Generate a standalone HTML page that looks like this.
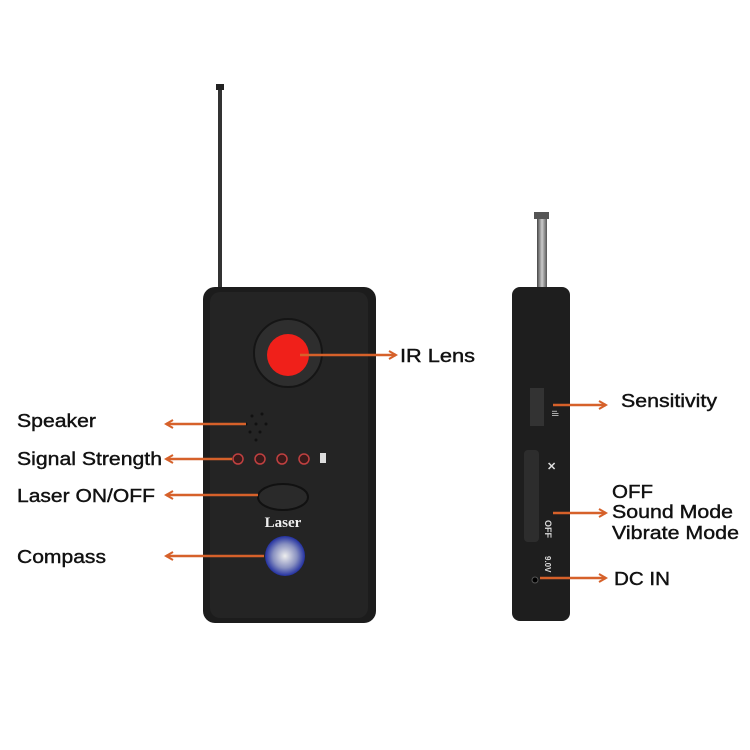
<!DOCTYPE html>
<html><head><style>
html,body{margin:0;padding:0;background:#fff;}
svg{display:block;font-family:"Liberation Sans",sans-serif;}
</style></head><body>
<svg width="750" height="750" viewBox="0 0 750 750">
<defs>
<marker id="ar" markerWidth="10" markerHeight="10" refX="8" refY="5" orient="auto" markerUnits="userSpaceOnUse">
<path d="M1,1 L8,5 L1,9" fill="none" stroke="#d6612a" stroke-width="2"/>
</marker>
<radialGradient id="cmp" cx="50%" cy="50%" r="50%"><stop offset="0" stop-color="#eee"/><stop offset="0.6" stop-color="#8890c0"/><stop offset="1" stop-color="#2230a0"/></radialGradient>
<linearGradient id="ant" x1="0" x2="1"><stop offset="0" stop-color="#444"/><stop offset="0.5" stop-color="#ccc"/><stop offset="1" stop-color="#555"/></linearGradient>
</defs>
<rect x="218" y="88" width="4" height="200" fill="#333"/>
<rect x="216" y="84" width="8" height="6" fill="#222"/>
<rect x="203" y="287" width="173" height="336" rx="12" fill="#1c1c1c"/>
<rect x="210" y="292" width="158" height="326" rx="10" fill="#242424"/>
<circle cx="288" cy="353" r="34" fill="#2e2e2e" stroke="#151515" stroke-width="2"/>
<circle cx="288" cy="355" r="21" fill="#f0201a"/>
<g fill="#111">
<circle cx="252" cy="416" r="1.5"/><circle cx="262" cy="414" r="1.5"/><circle cx="246" cy="424" r="1.5"/><circle cx="256" cy="424" r="1.5"/><circle cx="266" cy="424" r="1.5"/><circle cx="250" cy="432" r="1.5"/><circle cx="260" cy="432" r="1.5"/><circle cx="256" cy="440" r="1.5"/>
</g>
<g fill="#3a1a1a" stroke="#c04040" stroke-width="1.5">
<circle cx="238" cy="459" r="5"/><circle cx="260" cy="459" r="5"/><circle cx="282" cy="459" r="5"/><circle cx="304" cy="459" r="5"/>
</g>
<rect x="320" y="453" width="6" height="10" fill="#ddd"/>
<ellipse cx="283" cy="497" rx="25" ry="13" fill="#2a2a2a" stroke="#111" stroke-width="2"/>
<text x="283" y="527" text-anchor="middle" font-family="Liberation Serif,serif" font-weight="bold" font-size="15" fill="#eee">Laser</text>
<circle cx="285" cy="556" r="20" fill="url(#cmp)"/>
<rect x="537" y="218" width="10" height="70" fill="url(#ant)"/>
<rect x="534" y="212" width="15" height="7" fill="#555"/>
<rect x="512" y="287" width="58" height="334" rx="8" fill="#1e1e1e"/>
<rect x="530" y="388" width="14" height="38" fill="#333"/>
<text x="552" y="410" font-size="9" fill="#ccc" transform="rotate(90 552 410)">ıll</text>
<rect x="524" y="450" width="15" height="92" rx="4" fill="#2d2d2d"/>
<text x="547" y="470" font-size="11" fill="#ddd" font-weight="bold">✕</text>
<text x="545" y="520" font-size="9" fill="#ddd" font-weight="bold" transform="rotate(90 545 520)">OFF</text>
<text x="545" y="556" font-size="8" fill="#ddd" font-weight="bold" transform="rotate(90 545 556)">9.0V</text>
<circle cx="535" cy="580" r="3" fill="#000" stroke="#555"/>
<g stroke="#d6612a" stroke-width="2.5" fill="none" marker-end="url(#ar)">
<line x1="300" y1="355" x2="396" y2="355"/>
<line x1="246" y1="424" x2="166" y2="424"/>
<line x1="232" y1="459" x2="166" y2="459"/>
<line x1="258" y1="495" x2="166" y2="495"/>
<line x1="264" y1="556" x2="166" y2="556"/>
<line x1="553" y1="405" x2="606" y2="405"/>
<line x1="553" y1="513" x2="606" y2="513"/>
<line x1="540" y1="578" x2="606" y2="578"/>
</g>
<g font-size="18" fill="#111" stroke="#111" stroke-width="0.4">
<text x="400" y="362" textLength="75" lengthAdjust="spacingAndGlyphs">IR Lens</text>
<text x="17" y="427" textLength="79" lengthAdjust="spacingAndGlyphs">Speaker</text>
<text x="17" y="465" textLength="145" lengthAdjust="spacingAndGlyphs">Signal Strength</text>
<text x="17" y="502" textLength="138" lengthAdjust="spacingAndGlyphs">Laser ON/OFF</text>
<text x="17" y="563" textLength="89" lengthAdjust="spacingAndGlyphs">Compass</text>
<text x="621" y="407" textLength="96" lengthAdjust="spacingAndGlyphs">Sensitivity</text>
<text x="612" y="498" textLength="41" lengthAdjust="spacingAndGlyphs">OFF</text>
<text x="612" y="518" textLength="121" lengthAdjust="spacingAndGlyphs">Sound Mode</text>
<text x="612" y="539" textLength="127" lengthAdjust="spacingAndGlyphs">Vibrate Mode</text>
<text x="614" y="585" textLength="56" lengthAdjust="spacingAndGlyphs">DC IN</text>
</g>
</svg>
</body></html>
